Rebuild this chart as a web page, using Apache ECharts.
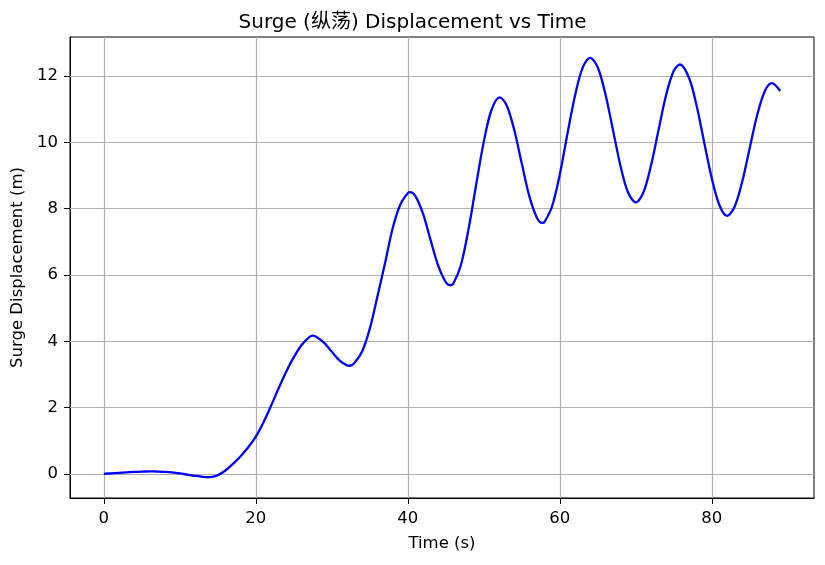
<!DOCTYPE html>
<html>
<head>
<meta charset="utf-8">
<script src="https://cdn.jsdelivr.net/npm/echarts@6/dist/echarts.min.js"></script>
<style>
  html, body { margin: 0; padding: 0; background: #fff; }
  #main { width: 825px; height: 565px; }
</style>
</head>
<body>
<div id="main"></div>
<script>
// 时间 (s) 与纵荡位移 (m)，从图上读出；峰谷处另加读数点
var timeSec = [0,1,2,3,4,5,6,6.5,7,8,9,10,11,12,13,13.8,14,15,16,17,18,19,20,21,22,23,24,25,26,27,27.5,28,29,
  30,31,32,32.4,33,34,35,36,37,38,39,40,40.3,41,42,43,44,45,45.6,46,47,48,49,50,51,52.1,53,54,55,56,57,57.7,58,59,
  60,61,62,63,64,65,66,67,68,69,70,71,72,73,74,75,75.8,77,78,79,80,81,82,83,84,85,86,87,87.9,89];
var surge = [0,0.015,0.03,0.045,0.06,0.068,0.072,0.073,0.07,0.06,0.04,0.01,-0.025,-0.06,-0.09,-0.1,-0.1,-0.04,0.1,0.3,0.53,0.8,
  1.12,1.55,2.05,2.58,3.08,3.52,3.88,4.12,4.17,4.13,3.95,3.68,3.42,3.27,3.26,3.35,3.7,4.38,5.35,6.35,7.4,8.12,
  8.47,8.5,8.38,7.85,7.05,6.28,5.78,5.69,5.74,6.31,7.39,8.73,10.02,10.97,11.36,11.12,10.38,9.36,8.37,7.72,7.57,7.6,8.08,
  9.03,10.25,11.41,12.25,12.55,12.26,11.46,10.37,9.28,8.48,8.19,8.49,9.3,10.38,11.44,12.16,12.35,11.95,11.11,10.0,
  8.92,8.11,7.78,8.06,8.81,9.84,10.85,11.56,11.79,11.55];
var xTicks = [0, 20, 40, 60, 80];
var yTicks = [0, 2, 4, 6, 8, 10, 12];

var font = 'DejaVu Sans, Noto Sans CJK SC, sans-serif';
var points = [];
for (var i = 0; i < timeSec.length; i++) {
  points.push([timeSec[i], surge[i]]);
}

var myChart = echarts.init(document.getElementById('main'));
var option = {
  animation: false,
  title: {
    text: 'Surge (纵荡) Displacement vs Time',
    left: 'center',
    top: 8,
    textStyle: { fontFamily: font, fontSize: 20, fontWeight: 'normal', color: '#000' }
  },
  grid: {
    left: 70, right: 11, top: 37, bottom: 67,
    show: true, borderColor: '#000', borderWidth: 1
  },
  xAxis: {
    type: 'value',
    min: -4.45, max: 93.45,
    name: 'Time (s)',
    nameLocation: 'middle',
    nameGap: 37,
    nameTextStyle: { fontFamily: font, fontSize: 16.5, color: '#000' },
    axisLine: { show: true, onZero: false, lineStyle: { color: '#000' } },
    axisTick: { show: true, length: 6, lineStyle: { color: '#000' }, customValues: xTicks },
    axisLabel: { fontFamily: font, fontSize: 16.5, color: '#000', margin: 12, customValues: xTicks },
    splitLine: { show: false }
  },
  yAxis: {
    type: 'value',
    min: -0.73, max: 13.18,
    name: 'Surge Displacement (m)',
    nameLocation: 'middle',
    nameGap: 39,
    nameTextStyle: { fontFamily: font, fontSize: 16.5, color: '#000' },
    axisLine: { show: true, onZero: false, lineStyle: { color: '#000' } },
    axisTick: { show: true, length: 6, lineStyle: { color: '#000' }, customValues: yTicks },
    axisLabel: { fontFamily: font, fontSize: 16.5, color: '#000', margin: 12, customValues: yTicks },
    splitLine: { show: false }
  },
  series: [
    {
      type: 'line',
      data: points,
      showSymbol: false,
      smooth: 0.33,
      lineStyle: { color: '#0000ff', width: 2.3 },
      z: 3,
      markLine: {
        silent: true,
        symbol: ['none', 'none'],
        label: { show: false },
        lineStyle: { color: '#b0b0b0', type: 'solid', width: 1.2 },
        z: 1,
        data: xTicks.map(function (v) { return { xAxis: v }; })
          .concat(yTicks.map(function (v) { return { yAxis: v }; }))
      }
    }
  ]
};
myChart.setOption(option);
</script>
</body>
</html>
